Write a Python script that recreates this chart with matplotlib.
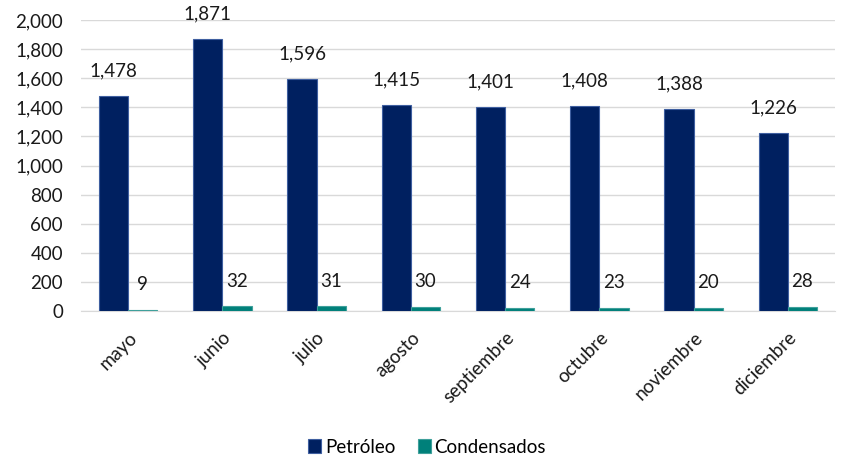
import matplotlib
matplotlib.use("Agg")
import matplotlib.pyplot as plt
import numpy as np

categories = ["mayo", "junio", "julio", "agosto", "septiembre", "octubre", "noviembre", "diciembre"]
petroleo = [1478, 1871, 1596, 1415, 1401, 1408, 1388, 1226]
condensados = [9, 32, 31, 30, 24, 23, 20, 28]

plt.rcParams['font.family'] = ['Lato', 'DejaVu Sans']
fig = plt.figure(figsize=(8.54, 4.61), dpi=100)
ax = fig.add_axes([81/854, 1 - 311/461, 754/854, 291/461])

FS = 13.5
x = np.arange(len(categories))
w = 0.31
b1 = ax.bar(x - w/2, petroleo, w, color="#002060", edgecolor="#3F5FA0", linewidth=0.8, label="Petróleo", zorder=3)
b2 = ax.bar(x + w/2, condensados, w, color="#00807A", edgecolor="#3FA09B", linewidth=0.8, label="Condensados", zorder=3)

for rect, v in zip(b1, petroleo):
    ax.annotate(f"{v:,}", (rect.get_x() + rect.get_width()/2, v), xytext=(0, 12),
                textcoords="offset points", ha="center", va="bottom", fontsize=FS, color="#1a1a1a")
for rect, v in zip(b2, condensados):
    ax.annotate(f"{v:,}", (rect.get_x() + rect.get_width()/2, v), xytext=(0, 12),
                textcoords="offset points", ha="center", va="bottom", fontsize=FS, color="#1a1a1a")

ax.set_xlim(-0.5, len(categories) - 0.5)
ax.set_ylim(0, 2000)
ax.set_yticks(range(0, 2001, 200))
ax.set_yticklabels([f"{t:,}" for t in range(0, 2001, 200)], fontsize=FS, color="#1a1a1a")
ax.set_xticks(x)
ax.set_xticklabels(categories, rotation=45, ha="right", rotation_mode="anchor", fontsize=FS, color="#1a1a1a")
ax.tick_params(axis="y", length=0, pad=13)
ax.tick_params(axis="x", length=0, pad=13)
ax.grid(axis="y", color="#D9D9D9", linewidth=1, zorder=0)
for s in ["top", "right", "left"]:
    ax.spines[s].set_visible(False)
ax.spines["bottom"].set_color("#D9D9D9")

fig.legend(handles=[b1, b2], loc="center", bbox_to_anchor=(0.5, 1 - 447/461), ncol=2, frameon=False,
           fontsize=FS, handlelength=0.7, handleheight=0.7, handletextpad=0.2, columnspacing=1.2)

fig.savefig("out.png", dpi=100)
